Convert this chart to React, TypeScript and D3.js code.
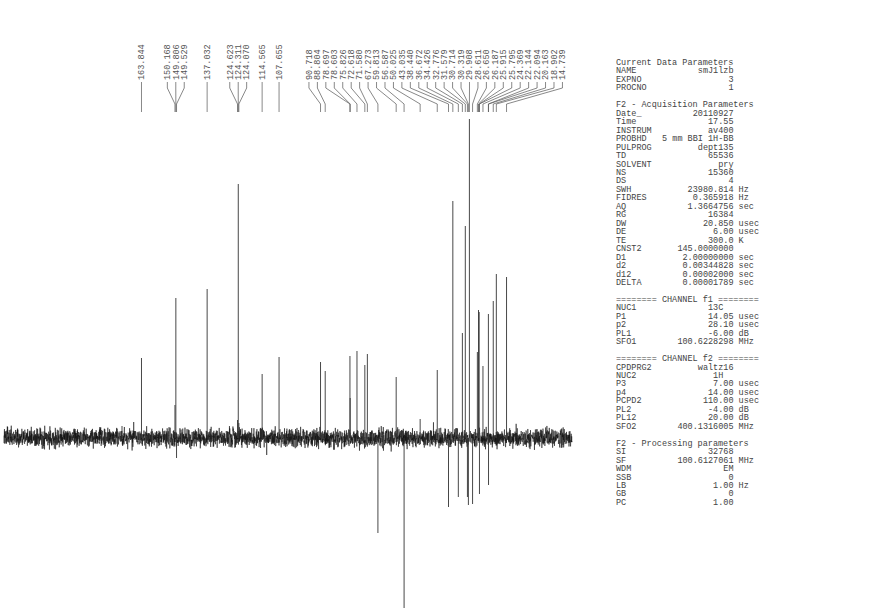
import React, { useMemo } from 'react';
import * as d3 from 'd3';

// ---- Peak list (ppm, label, intensity) ----
const peakPpm = [
  163.844, 150.168, 149.806, 149.529, 137.032, 124.623, 124.311, 124.07, 114.565, 107.655,
  90.718, 88.804, 78.697, 78.603, 75.826, 72.618, 71.58, 67.273, 59.813, 56.587,
  50.025, 43.035, 38.44, 36.672, 34.426, 32.776, 31.579, 30.714, 30.319, 29.908,
  28.611, 26.65, 26.187, 25.915, 25.795, 24.369, 22.144, 22.094, 20.163, 18.902, 14.739,
];
const peakLabels = [
  '163.844', '150.168', '149.806', '149.529', '137.032', '124.623', '124.311', '124.070', '114.565', '107.655',
  '90.718', '88.804', '78.697', '78.603', '75.826', '72.618', '71.580', '67.273', '59.813', '56.587',
  '50.025', '43.035', '38.440', '36.672', '34.426', '32.776', '31.579', '30.714', '30.319', '29.908',
  '28.611', '26.650', '26.187', '25.915', '25.795', '24.369', '22.144', '22.094', '20.163', '18.902', '14.739',
];
const peakIntensity = [
  80, 33, 140, -20, 149, 18, 254, 15, 64, 81,
  76, 67, 82, 40, 87, 73, 84, -95, 61, -170,
  19, 68, -69, 237, -59, 105, 212, -59, -67, 319,
  -66, 86, 128, 126, -56, 72, 124, -47, 137, 164, 161,
];
// small unlabelled signals
const minorPpm = [171.8, 2.3];
const minorIntensity = [12, 9];

// ---- Parameter panel ----
const paramRows: string[][] = [
  ['Current Data Parameters'],
  ['NAME', 'smJ1lzb', ''],
  ['EXPNO', '3', ''],
  ['PROCNO', '1', ''],
  [],
  ['F2 - Acquisition Parameters'],
  ['Date_', '20110927', ''],
  ['Time', '17.55', ''],
  ['INSTRUM', 'av400', ''],
  ['PROBHD', '5 mm BBI 1H-BB', ''],
  ['PULPROG', 'dept135', ''],
  ['TD', '65536', ''],
  ['SOLVENT', 'pry', ''],
  ['NS', '15360', ''],
  ['DS', '4', ''],
  ['SWH', '23980.814', 'Hz'],
  ['FIDRES', '0.365918', 'Hz'],
  ['AQ', '1.3664756', 'sec'],
  ['RG', '16384', ''],
  ['DW', '20.850', 'usec'],
  ['DE', '6.00', 'usec'],
  ['TE', '300.0', 'K'],
  ['CNST2', '145.0000000', ''],
  ['D1', '2.00000000', 'sec'],
  ['d2', '0.00344828', 'sec'],
  ['d12', '0.00002000', 'sec'],
  ['DELTA', '0.00001789', 'sec'],
  [],
  ['======== CHANNEL f1 ========'],
  ['NUC1', '13C\u00a0\u00a0', ''],
  ['P1', '14.05', 'usec'],
  ['p2', '28.10', 'usec'],
  ['PL1', '-6.00', 'dB'],
  ['SFO1', '100.6228298', 'MHz'],
  [],
  ['======== CHANNEL f2 ========'],
  ['CPDPRG2', 'waltz16', ''],
  ['NUC2', '1H\u00a0\u00a0', ''],
  ['P3', '7.00', 'usec'],
  ['p4', '14.00', 'usec'],
  ['PCPD2', '110.00', 'usec'],
  ['PL2', '-4.00', 'dB'],
  ['PL12', '20.00', 'dB'],
  ['SFO2', '400.1316005', 'MHz'],
  [],
  ['F2 - Processing parameters'],
  ['SI', '32768', ''],
  ['SF', '100.6127061', 'MHz'],
  ['WDM', 'EM', ''],
  ['SSB', '0', ''],
  ['LB', '1.00', 'Hz'],
  ['GB', '0', ''],
  ['PC', '1.00', ''],
];

const W = 870;
const H = 611;
const MONO = "'Liberation Mono', 'DejaVu Sans Mono', monospace";

function mulberry32(a: number) {
  return function () {
    a |= 0; a = (a + 0x6d2b79f5) | 0;
    let t = Math.imul(a ^ (a >>> 15), 1 | a);
    t = (t + Math.imul(t ^ (t >>> 7), 61 | t)) ^ t;
    return ((t ^ (t >>> 14)) >>> 0) / 4294967296;
  };
}

export default function App() {
  const x = d3.scaleLinear().domain([220, -12]).range([4, 572]);
  const y = d3.scaleLinear().domain([0, 320]).range([438, 118]);

  // baseline noise texture (deterministic)
  const noisePath = useMemo(() => {
    const rnd = mulberry32(12345);
    const pts: [number, number][] = [];
    const [p0, p1] = x.domain();
    const n = 3600;
    for (let i = 0; i <= n; i++) {
      const ppm = p0 + ((p1 - p0) * i) / n;
      let v = (rnd() + rnd() + rnd() - 1.5) * 9;
      if (rnd() < 0.02) v *= 1.5;
      pts.push([x(ppm), y(v)]);
    }
    return d3.line()(pts) || '';
  }, []);

  // label placement (cluster spreading)
  const spacing = 8.45;
  const labelPos = useMemo(() => {
    const idx = peakPpm.map((_, i) => i).sort((a, b) => x(peakPpm[a]) - x(peakPpm[b]));
    let clusters = idx.map((i) => ({ items: [i], center: x(peakPpm[i]) }));
    let merged = true;
    while (merged) {
      merged = false;
      for (let k = 0; k < clusters.length - 1; k++) {
        const a = clusters[k], b = clusters[k + 1];
        const aLast = a.center + ((a.items.length - 1) / 2) * spacing;
        const bFirst = b.center - ((b.items.length - 1) / 2) * spacing;
        if (bFirst - aLast < spacing) {
          const items = a.items.concat(b.items);
          const center = d3.mean(items, (i) => x(peakPpm[i])) as number;
          clusters.splice(k, 2, { items, center });
          merged = true;
          break;
        }
      }
    }
    const pos: number[] = new Array(peakPpm.length);
    clusters.forEach((c) => {
      c.items.forEach((i, j) => {
        pos[i] = c.center + (j - (c.items.length - 1) / 2) * spacing;
      });
    });
    return pos;
  }, []);

  const textBottom = 80;
  const yA = 82, yB = 88, yC = 104, yD = 112;

  const rowY0 = 62;
  const rowStep = 8.46;
  const colName = 616;
  const colValEnd = 733.5;
  const colUnit = 738.6;

  return (
    <svg width={W} height={H} style={{ position: 'absolute', left: 0, top: 0, background: '#fff' }}>
      <rect width={W} height={H} fill="#fff" />
      {/* noise baseline */}
      <path d={noisePath} fill="none" stroke="#111" strokeWidth={0.55} />
      {/* peaks */}
      {peakPpm.map((p, i) => (
        <line key={'p' + i} x1={x(p)} x2={x(p)} y1={y(0)} y2={y(peakIntensity[i])} stroke="#333" strokeWidth={0.9} />
      ))}
      {minorPpm.map((p, i) => (
        <line key={'m' + i} x1={x(p)} x2={x(p)} y1={y(0)} y2={y(minorIntensity[i])} stroke="#333" strokeWidth={0.9} />
      ))}
      {/* leaders */}
      {peakPpm.map((p, i) => {
        const lx = labelPos[i];
        const px = x(p);
        return (
          <path key={'l' + i} d={`M${lx},${yA}L${lx},${yB}L${px},${yC}L${px},${yD}`} fill="none" stroke="#555" strokeWidth={0.7} />
        );
      })}
      {/* labels */}
      {peakLabels.map((t, i) => (
        <text key={'t' + i} transform={`translate(${labelPos[i]},${textBottom}) rotate(-90)`} dy="0.33em"
          fontFamily={MONO} fontSize={8.5} fill="#555">{t}</text>
      ))}
      {/* parameter panel */}
      {paramRows.map((r, i) => {
        if (r.length === 0) return null;
        const yy = rowY0 + i * rowStep + 3;
        if (r.length === 1) {
          return <text key={'r' + i} x={colName} y={yy} fontFamily={MONO} fontSize={8.5} fill="#444">{r[0]}</text>;
        }
        return (
          <g key={'r' + i} fontFamily={MONO} fontSize={8.5} fill="#444">
            <text x={colName} y={yy}>{r[0]}</text>
            <text x={colValEnd} y={yy} textAnchor="end">{r[1]}</text>
            {r[2] ? <text x={colUnit} y={yy}>{r[2]}</text> : null}
          </g>
        );
      })}
    </svg>
  );
}
